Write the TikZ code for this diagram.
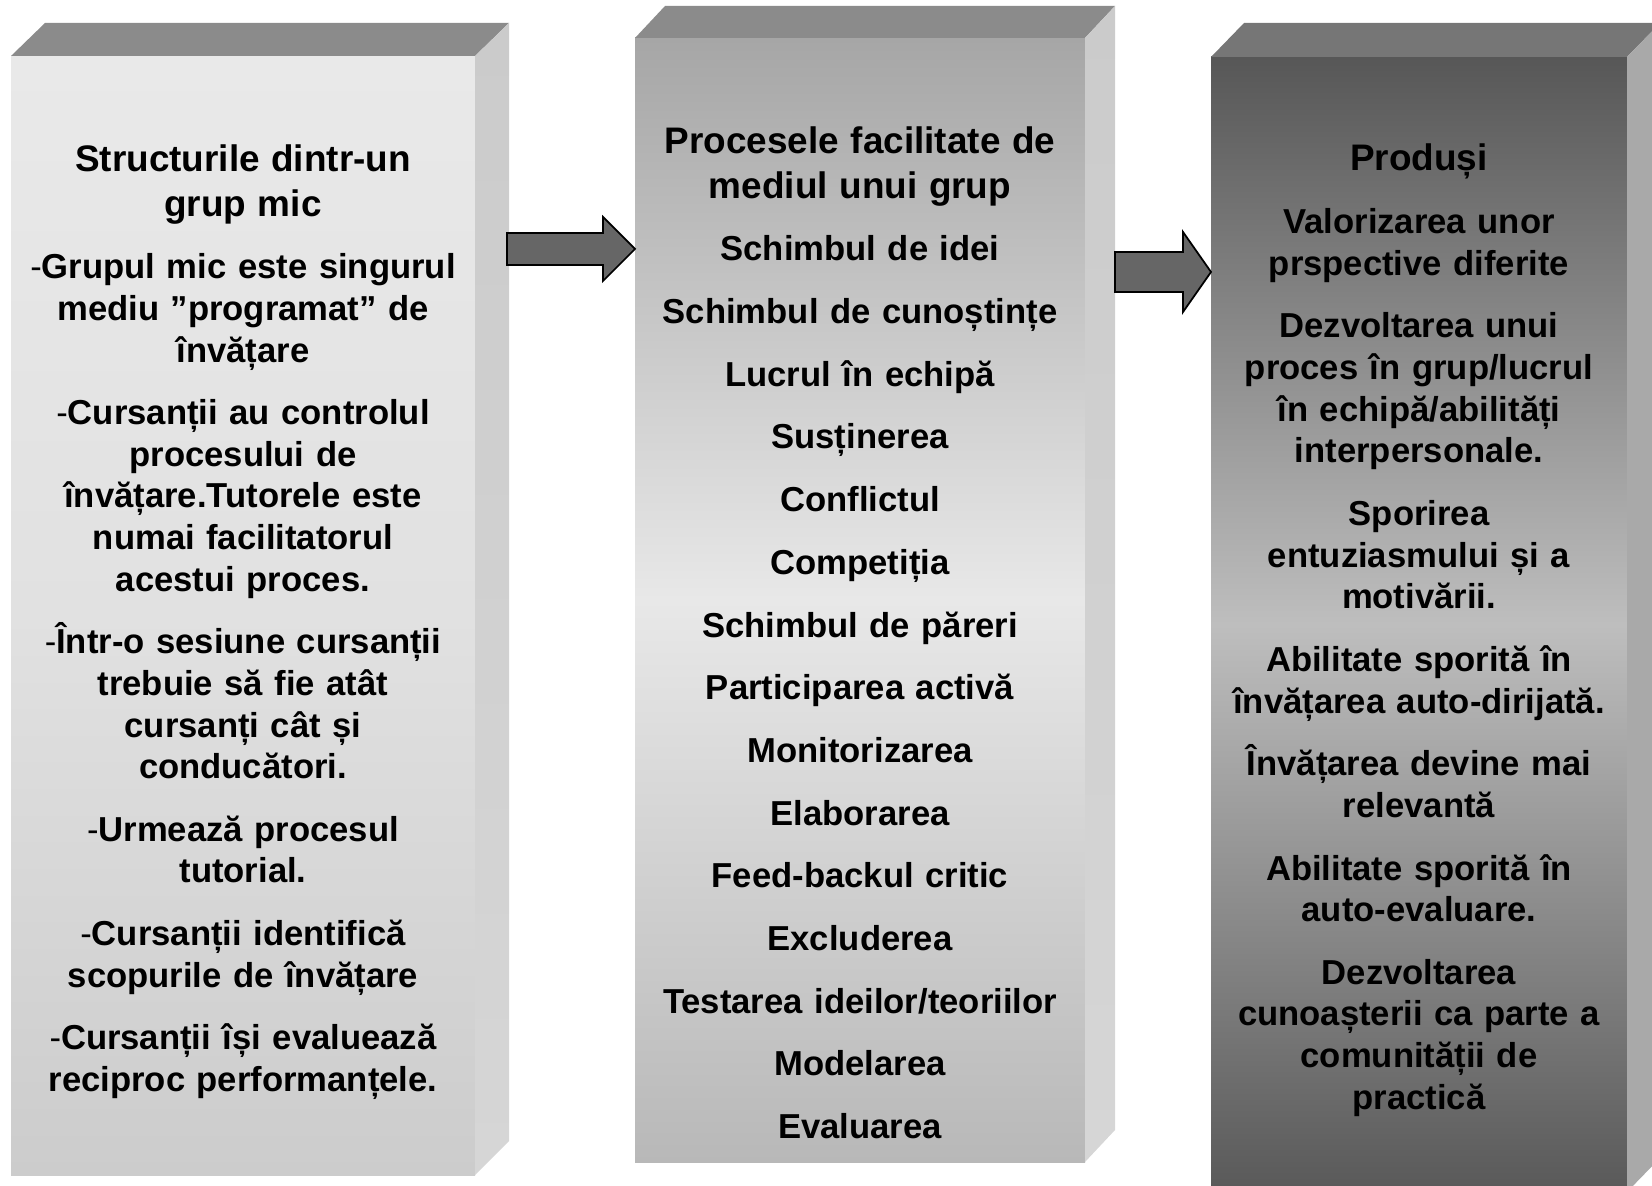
\documentclass[tikz,border=0pt]{standalone}
\usepackage{fontspec}
\setmainfont{Liberation Sans}
\usetikzlibrary{calc, fit}

\definecolor{lfrontT}{HTML}{E9E9E9}
\definecolor{lfrontM}{HTML}{E1E1E1}
\definecolor{lfrontB}{HTML}{CCCCCC}
\definecolor{mfrontT}{HTML}{A6A6A6}
\definecolor{mfrontM}{HTML}{E8E8E8}
\definecolor{mfrontB}{HTML}{B8B8B8}
\definecolor{rfrontT}{HTML}{575757}
\definecolor{rfrontM}{HTML}{BEBEBE}
\definecolor{rfrontB}{HTML}{595959}
\definecolor{lidgray}{HTML}{8B8B8B}
\definecolor{rlidgray}{HTML}{767676}
\definecolor{sideT}{HTML}{CBCBCB}
\definecolor{sideB}{HTML}{D6D6D6}
\definecolor{rside}{HTML}{A9A9A9}
\definecolor{arrowgray}{HTML}{666666}

\newcommand\ttl{\fontsize{10.5}{12.55}\selectfont}

\begin{document}
\begin{tikzpicture}[x=0.01cm, y=-0.01cm,
    face/.style={inner sep=0pt, outer sep=0pt},
    txt/.style={anchor=base, text width=150pt, align=center, inner sep=0pt,
        font=\bfseries\fontsize{9.85}{11.83}\selectfont,
        execute at begin node={\setlength{\parskip}{6pt}}},
    barrow/.style={draw=black, line width=0.5pt, fill=arrowgray, line join=miter}]
\useasboundingbox (0,0) rectangle (1652,1186);
\clip (0,0) rectangle (1652,1186);

% left block
\node[face, fit={(11,56) (475,1175)}, top color=lfrontT, bottom color=lfrontB, middle color=lfrontM] (lbox) {};
\fill[lidgray] (lbox.north west) -- ++(34,-33) -- ($(lbox.north east)+(34,-33)$) -- (lbox.north east) -- cycle;
\shade[top color=sideT, bottom color=sideB] (lbox.north east) -- ++(34,-33) -- ($(lbox.south east)+(34,-34)$) -- (lbox.south east) -- cycle;

% middle block
\node[face, fit={(635,38) (1085,1162)}, top color=mfrontT, bottom color=mfrontB, middle color=mfrontM] (mbox) {};
\fill[lidgray] (mbox.north west) -- ++(30,-32) -- ($(mbox.north east)+(30,-32)$) -- (mbox.north east) -- cycle;
\shade[top color=sideT, bottom color=sideB] (mbox.north east) -- ++(30,-32) -- ($(mbox.south east)+(30,-32)$) -- (mbox.south east) -- cycle;

% right block
\node[face, fit={(1211,57) (1627,1192)}, top color=rfrontT, bottom color=rfrontB, middle color=rfrontM] (rbox) {};
\fill[rlidgray] (rbox.north west) -- ++(33,-34) -- ($(rbox.north east)+(33,-34)$) -- (rbox.north east) -- cycle;
\fill[rside] (rbox.north east) -- ++(33,-34) -- ($(rbox.south east)+(33,-34)$) -- (rbox.south east) -- cycle;

\node[txt] (struct) at (243,172) {{\ttl Structurile dintr-un\\grup mic\par}
{\mdseries-}Grupul mic este singurul\\mediu ”programat” de\\învățare\par
{\mdseries-}Cursanții au controlul\\procesului de\\învățare.Tutorele este\\numai facilitatorul\\acestui proces.\par
{\mdseries-}Într-o sesiune cursanții\\trebuie să fie atât\\cursanți cât și\\conducători.\par
{\mdseries-}Urmează procesul\\tutorial.\par
{\mdseries-}Cursanții identifică\\scopurile de învățare\par
{\mdseries-}Cursanții își evaluează\\reciproc performanțele.};

\node[txt] (proc) at (860,154) {{\ttl Procesele facilitate de\\mediul unui grup\par}
Schimbul de idei\par
Schimbul de cunoștințe\par
Lucrul în echipă\par
Susținerea\par
Conflictul\par
Competiția\par
Schimbul de păreri\par
Participarea activă\par
Monitorizarea\par
Elaborarea\par
Feed-backul critic\par
Excluderea\par
Testarea ideilor/teoriilor\par
Modelarea\par
Evaluarea};

\node[txt] (prod) at (1419,171) {{\ttl Produși\par}
Valorizarea unor\\prspective diferite\par
Dezvoltarea unui\\proces în grup/lucrul\\în echipă/abilități\\interpersonale.\par
Sporirea\\entuziasmului și a\\motivării.\par
Abilitate sporită în\\învățarea auto-dirijată.\par
Învățarea devine mai\\relevantă\par
Abilitate sporită în\\auto-evaluare.\par
Dezvoltarea\\cunoașterii ca parte a\\comunității de\\practică};

% block arrows
\coordinate (a1) at (507,249);
\draw[barrow] ($(a1)+(0,-16)$) -- ($(mbox.west |- a1)+(-32,-16)$) -- ++(0,-16) -- (mbox.west |- a1)
    -- ($(mbox.west |- a1)+(-32,32)$) -- ++(0,-16) -- ($(a1)+(0,16)$) -- cycle;
\coordinate (a2) at (1115,272);
\draw[barrow] ($(a2)+(0,-20)$) -- ($(rbox.west |- a2)+(-28,-20)$) -- ++(0,-20) -- (rbox.west |- a2)
    -- ($(rbox.west |- a2)+(-28,40)$) -- ++(0,-20) -- ($(a2)+(0,20)$) -- cycle;
\end{tikzpicture}
\end{document}
